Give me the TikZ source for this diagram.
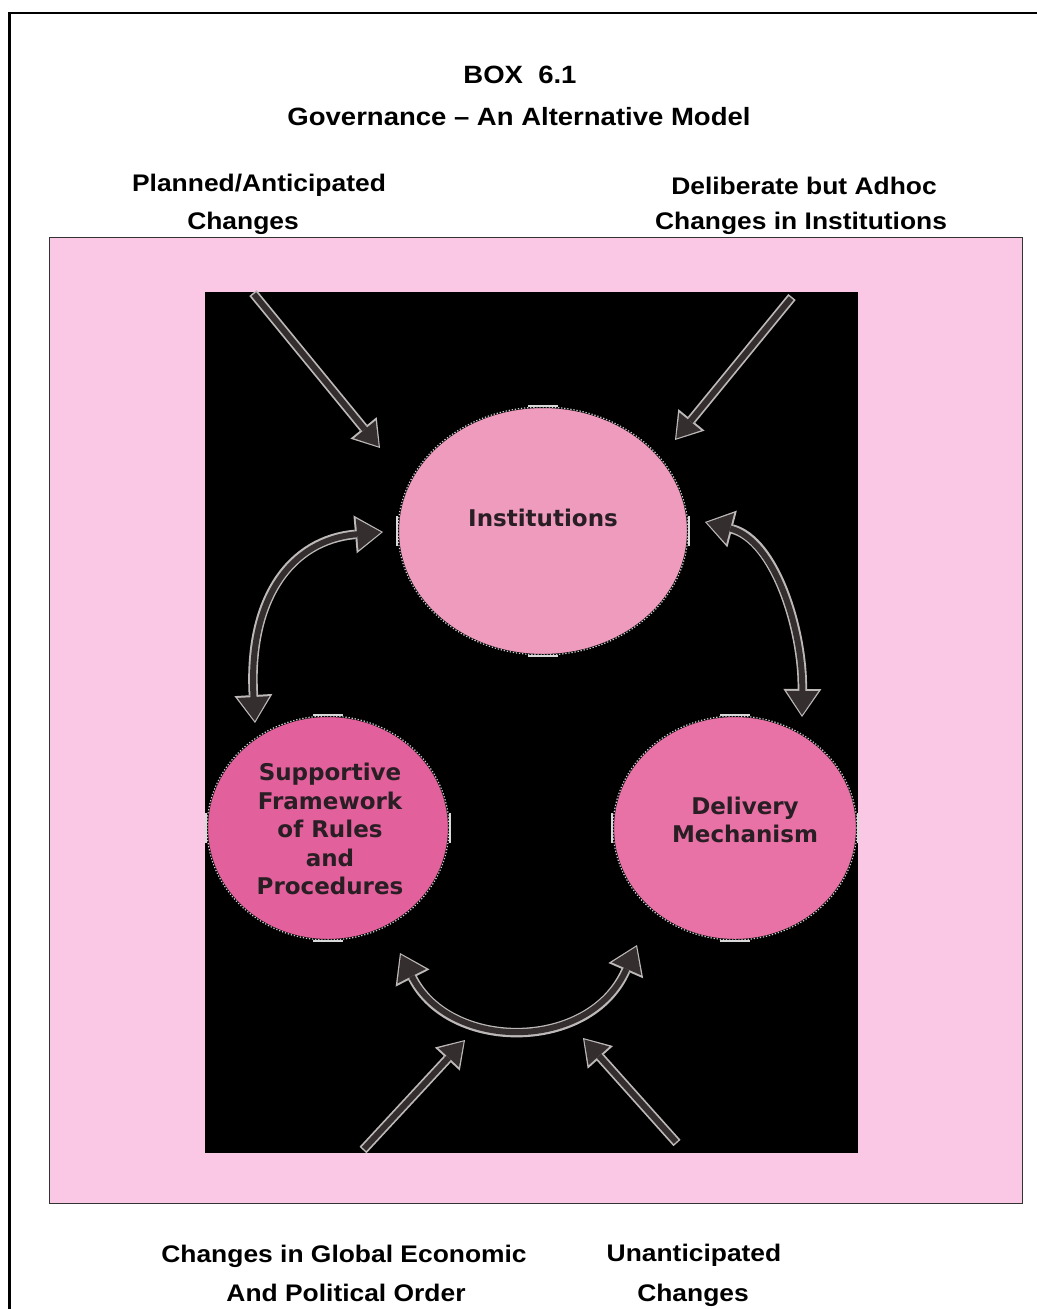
\documentclass[tikz,border=0pt]{standalone}
\usepackage{fontspec}
\setmainfont{Liberation Sans}
\newfontfamily\lblfont{Liberation Sans}[FakeStretch=1.1,Ligatures=TeX]
\newfontfamily\ovalfont{DejaVu Sans}
\usetikzlibrary{shapes.geometric,arrows.meta}
\definecolor{boxpink}{RGB}{250,200,228}
\definecolor{instpink}{RGB}{238,155,190}
\definecolor{rulepink}{RGB}{226,96,155}
\definecolor{delpink}{RGB}{232,113,166}
\definecolor{arrowcore}{RGB}{52,46,46}
\definecolor{arrowrim}{RGB}{190,185,185}
\definecolor{ovaltext}{RGB}{40,30,35}
\begin{document}
\begin{tikzpicture}[x=1pt,y=-1pt,
  heading/.style={font=\lblfont\bfseries\fontsize{25}{30}\selectfont, anchor=base, inner sep=0pt},
  caption/.style={font=\lblfont\bfseries\fontsize{24}{28}\selectfont, anchor=base, inner sep=0pt},
  oval/.style={ellipse, draw=black, line width=2pt, inner sep=0pt,
    postaction={draw=white!80!black, line width=1.2pt, dash pattern=on 1.3pt off 1.8pt}},
  ovaltxt/.style={font=\ovalfont\bfseries\fontsize{23}{28.5}\selectfont, text=ovaltext, align=center, inner sep=0pt},
  handle/.style={draw=white!85!black, line width=2pt},
  rimone/.style={draw=arrowrim, line width=9.5pt, -{Triangle[length=26pt,width=34pt,line width=0pt]}},
  coreone/.style={draw=arrowcore, line width=6pt, shorten >=2pt, shorten <=1.5pt,
    -{Triangle[length=22pt,width=28pt,line width=0pt]}},
  rimtwo/.style={draw=arrowrim, line width=9.5pt,
    {Triangle[length=28pt,width=38pt,line width=0pt]}-{Triangle[length=28pt,width=38pt,line width=0pt]}},
  coretwo/.style={draw=arrowcore, line width=6pt, shorten >=2pt, shorten <=2pt,
    {Triangle[length=24pt,width=32pt,line width=0pt]}-{Triangle[length=24pt,width=32pt,line width=0pt]}}
]
% page and frame
\fill[white] (0,0) rectangle (1036,1309);
\useasboundingbox (0,0) rectangle (1036,1309);
\draw[line width=2.3pt] (9.5,1320) -- (9.5,12.8) -- (1050,12.8);

% headings
\node[heading] (box) at (520,83) {BOX\ \ 6.1};
\node[heading] (title) at (519,125) {Governance – An Alternative Model};
\node[caption] (planA) at (259,191) {Planned/Anticipated};
\node[caption] (planB) at (243,229) {Changes};
\node[caption] (delibA) at (804,194) {Deliberate but Adhoc};
\node[caption] (delibB) at (801,229) {Changes in Institutions};
\node[caption] (globA) at (344,1262) {Changes in Global Economic};
\node[caption] (globB) at (346,1301) {And Political Order};
\node[caption] (unantA) at (694,1261) {Unanticipated};
\node[caption] (unantB) at (693,1301) {Changes};

% pink field and black panel
\draw[fill=boxpink, draw=black!80, line width=1pt] (49,237) rectangle (1022,1203);
\fill[black] (205,292) rectangle (858,1153);

% the three ovals
\node[oval, fill=instpink, minimum width=290pt, minimum height=248pt] (inst) at (543,531) {};
\node[oval, fill=rulepink, minimum width=242pt, minimum height=224pt] (rules) at (328,828) {};
\node[oval, fill=delpink, minimum width=244pt, minimum height=224pt] (deliv) at (735,828) {};
\foreach \n in {inst,rules,deliv}{
  \draw[handle] ([xshift=-15pt]\n.north) -- ([xshift=15pt]\n.north);
  \draw[handle] ([xshift=-15pt]\n.south) -- ([xshift=15pt]\n.south);
  \draw[handle] ([yshift=-15pt]\n.east) -- ([yshift=15pt]\n.east);
  \draw[handle] ([yshift=-15pt]\n.west) -- ([yshift=15pt]\n.west);
}
\node[ovaltxt] (instT) at (543,518) {Institutions};
\node[ovaltxt] (rulesT) at (330,829) {Supportive\\Framework\\of Rules\\and\\Procedures};
\node[ovaltxt] (delivT) at (745,820) {Delivery\\Mechanism};

% arrow end points
\coordinate (tlTail) at (253,293);
\coordinate (tlTip) at (380,448);
\coordinate (trTail) at (792,297);
\coordinate (trTip) at (675,440);
\coordinate (blTail) at (363,1150);
\coordinate (blTip) at (465,1040);
\coordinate (brTail) at (677,1143);
\coordinate (brTip) at (583,1038);
\coordinate (lTop) at (383,532);
\coordinate (lBot) at (255,723);
\coordinate (rTop) at (705,522);
\coordinate (rBot) at (802,717);
\coordinate (bLeft) at (400,953);
\coordinate (bRight) at (637,945);

% straight inflow arrows
\foreach \a/\b in {tlTail/tlTip, trTail/trTip, blTail/blTip, brTail/brTip}{
  \draw[rimone] (\a) -- (\b);
  \draw[coreone] (\a) -- (\b);
}
% two-way links between the ovals
\draw[rimtwo] (lTop) .. controls (290,540) and (248,600) .. (lBot);
\draw[coretwo] (lTop) .. controls (290,540) and (248,600) .. (lBot);
\draw[rimtwo] (rTop) .. controls (775,540) and (803,630) .. (rBot);
\draw[coretwo] (rTop) .. controls (775,540) and (803,630) .. (rBot);
\draw[rimtwo] (bLeft) .. controls (450,1052) and (590,1052) .. (bRight);
\draw[coretwo] (bLeft) .. controls (450,1052) and (590,1052) .. (bRight);
\end{tikzpicture}
\end{document}
